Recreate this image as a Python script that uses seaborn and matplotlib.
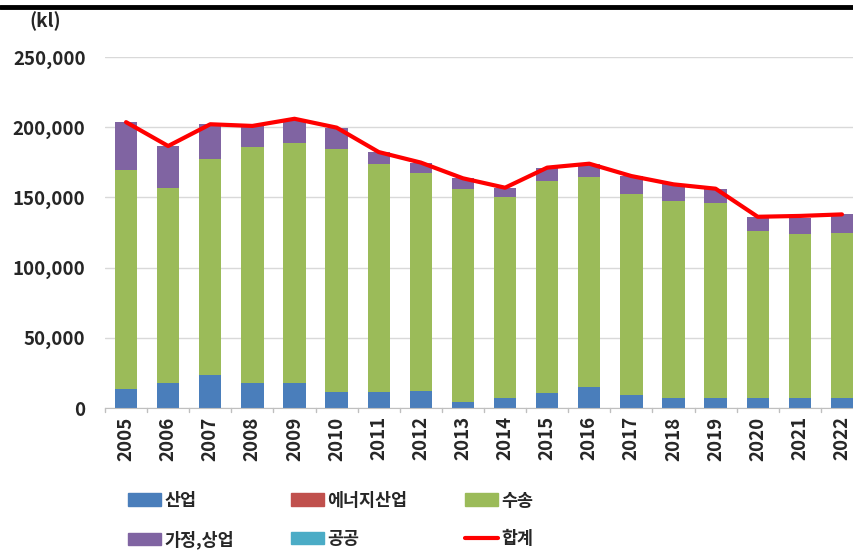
import matplotlib
matplotlib.use("Agg")
import matplotlib.pyplot as plt
import matplotlib.lines as mlines
import matplotlib.patches as mpatches
import seaborn as sns
import pandas as pd
import numpy as np

years = [str(y) for y in range(2005, 2023)]
industry = [13300, 18100, 23600, 18100, 18100, 11200, 11200, 12400, 4500, 6900,
            10500, 14800, 9300, 6900, 6900, 6900, 6900, 6900]
energy = [0] * 18
transport = [156000, 138800, 153500, 167800, 170900, 173500, 162400, 154700, 151200, 143600,
             151100, 150000, 143300, 140500, 138800, 119000, 117200, 117900]
household = [34300, 29700, 25000, 15000, 16200, 15000, 8700, 7700, 7900, 6400,
             9600, 9200, 12600, 11900, 10500, 10300, 11400, 13100]
public = [0] * 18
total = [203600, 186600, 202100, 200900, 206000, 199700, 182300, 174800, 163600, 156900,
         171200, 174000, 165200, 159300, 156200, 136200, 136800, 137900]

colors = {"산업": "#4A7EBB", "에너지산업": "#C0504D", "수송": "#9BBB59",
          "가정,상업": "#8064A2", "공공": "#4BACC6", "합계": "#FF0000"}

df = pd.DataFrame({"year": years, "산업": industry, "에너지산업": energy,
                   "수송": transport, "가정,상업": household, "공공": public})
order = ["산업", "에너지산업", "수송", "가정,상업", "공공"]
cum = df[order].cumsum(axis=1)

sns.set_style("white")
plt.rcParams["font.family"] = ["Noto Sans CJK KR", "DejaVu Sans"]

fig = plt.figure(figsize=(8.54, 5.51), dpi=100)
ax = fig.add_axes([105 / 854, 1 - 408 / 551, 758 / 854, 351 / 551])

# stacked bars: draw cumulative heights from top layer down
for name in reversed(order):
    sns.barplot(x=df["year"], y=cum[name], color=colors[name], width=0.53,
                saturation=1, ax=ax, linewidth=0, zorder=2)

sns.lineplot(x=np.arange(len(years)), y=total, color=colors["합계"], linewidth=3,
             ax=ax, zorder=3)

ax.set_ylim(0, 250000)
ax.set_xlim(-0.5, len(years) - 0.5)
ax.set_yticks(range(0, 250001, 50000))
ax.set_yticklabels([f"{v:,}" for v in range(0, 250001, 50000)], fontsize=13.5, fontweight="bold")
ax.set_xticks(range(len(years)))
ax.set_xticklabels(years, rotation=90, fontsize=13.5, fontweight="bold")
ax.tick_params(axis="x", length=0, pad=6)
ax.tick_params(axis="y", length=0, pad=14)
ax.set_xlabel("")
ax.set_ylabel("")
ax.yaxis.grid(True, color="#D9D9D9", linewidth=1)
ax.set_axisbelow(True)
for s in ["left", "right", "top"]:
    ax.spines[s].set_visible(False)
ax.spines["bottom"].set_color("#BFBFBF")
for b in np.arange(-0.5, len(years), 1):
    ax.plot([b, b], [0, -2500], color="#BFBFBF", linewidth=1, clip_on=False)

fig.text(45 / 854, 1 - 21 / 551, "(kl)", fontsize=13.5, fontweight="bold", ha="center", va="center")
fig.add_artist(mlines.Line2D([0, 1], [1 - 7 / 551, 1 - 7 / 551], color="black", linewidth=3.5))

handles = [mpatches.Patch(color=colors["산업"], label="산업"),
           mpatches.Patch(color=colors["가정,상업"], label="가정,상업"),
           mpatches.Patch(color=colors["에너지산업"], label="에너지산업"),
           mpatches.Patch(color=colors["공공"], label="공공"),
           mpatches.Patch(color=colors["수송"], label="수송"),
           mlines.Line2D([], [], color=colors["합계"], linewidth=3, label="합계")]
fig.legend(handles=handles, ncol=3, loc="upper left", bbox_to_anchor=(112 / 854, 1 - 476 / 551),
           frameon=False, prop={"size": 12.5, "weight": "bold"}, handlelength=1.9,
           handletextpad=0.2, columnspacing=3.3, labelspacing=1.2)

fig.savefig("out.png", dpi=100)
